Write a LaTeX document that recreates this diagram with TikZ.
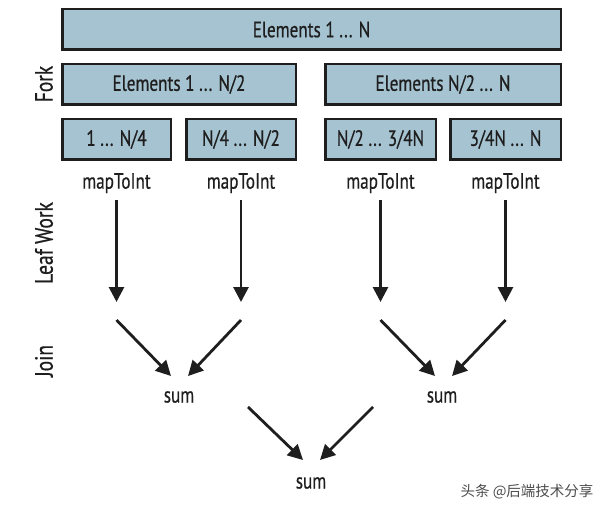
\documentclass[tikz,border=0pt]{standalone}
\usepackage{fontspec}
\setmainfont{PT Sans}[FakeStretch=0.78, FakeBold=0.6]
\newfontfamily\cjk{Noto Sans CJK SC}
\usepackage{tikz}
\usetikzlibrary{positioning, arrows.meta, calc}

\definecolor{boxblue}{HTML}{A5C3D1}
\definecolor{ink}{HTML}{1E1E1E}

\begin{document}
\begin{tikzpicture}[x=1pt, y=1pt]
	% Define styles
	\tikzset{
		block/.style={rectangle, draw=ink, line width=2.5pt, fill=boxblue, text=ink, minimum height=40.5pt, inner sep=0pt, font=\fontsize{22}{24}\selectfont},
		work/.style={text=ink, inner sep=1pt, font=\fontsize{22}{24}\selectfont},
		side/.style={text=ink, rotate=90, font=\fontsize{25}{27}\selectfont},
		line/.style={draw=ink, line width=2.8pt, -{Triangle[length=15pt, width=15pt]}}
	}
	\useasboundingbox (0,0) rectangle (610,512);
	
	% Boxes
	\node[block, minimum width=498.5pt] (all) at (311.5,482.5) {Elements 1 ... N};
	\node[block, minimum width=233.5pt] (h1) at (179,427.5) {Elements 1 ... N/2};
	\node[block, minimum width=235.5pt] (h2) at (443,427.5) {Elements N/2 ... N};
	
	\node[block, minimum width=108.5pt] (q1) at (116.5,372.5) {1 ... N/4};
	\node[block, minimum width=109.5pt] (q2) at (241,372.5) {N/4 ... N/2};
	\node[block, minimum width=110.5pt] (q3) at (380.5,372.5) {N/2 ... 3/4N};
	\node[block, minimum width=110.5pt] (q4) at (505.5,372.5) {3/4N ... N};
	
	% Leaf work
	\node[work, below=11pt of q1] (m1) {mapToInt};
	\node[work, below=11pt of q2] (m2) {mapToInt};
	\node[work, below=11pt of q3] (m3) {mapToInt};
	\node[work, below=11pt of q4] (m4) {mapToInt};
	
	\node[work] (s1) at (179,115) {sum};
	\node[work] (s2) at (442,115) {sum};
	\node[work] (s3) at (311,29) {sum};
	
	% Phase labels
	\node[side] (fork) at (44,428) {Fork};
	\node[side] (leaf) at (44,269) {Leaf Work};
	\node[side] (join) at (44,151) {Join};
	
	\node[text=black!70, font=\cjk\fontsize{14.5}{16}\selectfont] (mark) at (527,20) {头条 @后端技术分享};
	
	% Arrow ends
	\coordinate (v1) at (116.5,210);
	\coordinate (v2) at (241,210);
	\coordinate (v3) at (380.5,210);
	\coordinate (v4) at (505.5,210);
	
	\coordinate (j1) at (116.5,192);
	\coordinate (j2) at (241,192);
	\coordinate (j3) at (380.5,192);
	\coordinate (j4) at (505.5,192);
	\coordinate (t1) at (171,136);
	\coordinate (t2) at (188,136);
	\coordinate (t3) at (435,136);
	\coordinate (t4) at (452,136);
	
	\coordinate (k1) at (248,105);
	\coordinate (k2) at (373,105);
	\coordinate (u1) at (303,52);
	\coordinate (u2) at (320,52);
	
	% Arrows
	\draw[line, shorten <=6pt] (m1) -- (v1);
	\draw[line, shorten <=6pt] (m2) -- (v2);
	\draw[line, shorten <=6pt] (m3) -- (v3);
	\draw[line, shorten <=6pt] (m4) -- (v4);
	
	\draw[line] (j1) -- (t1);
	\draw[line] (j2) -- (t2);
	\draw[line] (j3) -- (t3);
	\draw[line] (j4) -- (t4);
	
	\draw[line] (k1) -- (u1);
	\draw[line] (k2) -- (u2);
	
\end{tikzpicture}
\end{document}
